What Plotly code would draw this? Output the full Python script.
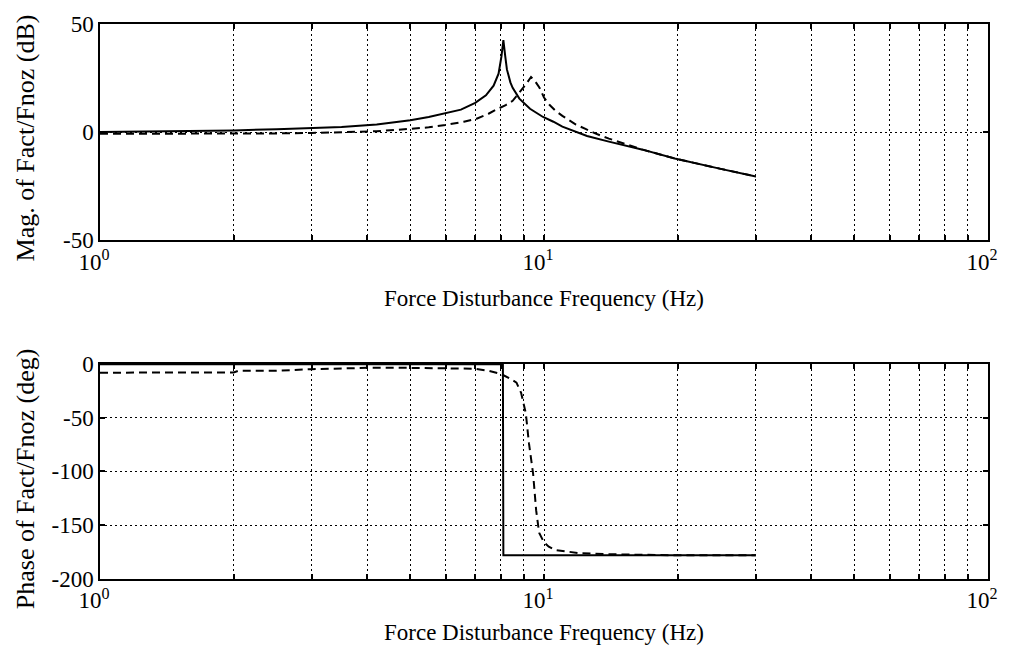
import plotly.graph_objects as go
from plotly.subplots import make_subplots

# ---- data ----
freq_mag_solid = [1.0, 1.5, 2.0, 2.5, 3.0, 3.5, 4.2, 5.0, 5.5, 6.0, 6.5, 7.0, 7.4, 7.7, 7.9, 8.02, 8.1,
                  8.18, 8.25, 8.4, 8.5, 8.8, 9.0, 9.3, 9.95, 10.5, 11.0, 11.8, 12.5, 14.0, 16.6, 19.7, 22.0, 25.0, 30.0]
mag_solid = [0.0, 0.3, 0.8, 1.3, 1.8, 2.4, 3.5, 5.5, 7.0, 8.7, 10.4, 13.5, 17.0, 21.5, 27.0, 35.0, 42.5,
             35.0, 29.0, 23.0, 20.5, 15.5, 13.5, 10.8, 7.0, 4.8, 2.5, 0.0, -1.8, -4.4, -8.0, -12.2, -14.5, -17.0, -20.5]

freq_mag_dash = [1.0, 1.5, 2.0, 2.5, 3.0, 3.5, 4.2, 5.0, 5.5, 6.0, 6.6, 7.05, 7.5, 7.8, 8.2, 8.5, 8.95, 9.1, 9.35,
                 9.55, 9.77, 10.0, 10.3, 10.6, 11.0, 11.8, 12.4, 13.0, 14.0, 15.2, 16.6, 19.7, 22.0, 25.0, 30.0]
mag_dash = [-0.8, -0.8, -0.7, -0.6, -0.4, -0.1, 0.4, 1.5, 2.2, 3.3, 4.8, 6.2, 8.5, 10.4, 12.5, 14.5, 20.0, 22.0, 25.5,
            23.5, 20.5, 16.0, 12.5, 10.0, 7.5, 3.5, 1.5, -0.5, -3.0, -5.5, -8.0, -12.2, -14.5, -17.0, -20.5]

freq_ph_solid = [1.0, 8.08, 8.1, 30.0]
phase_solid = [-0.5, -0.5, -178.0, -178.0]

freq_ph_dash = [1.0, 1.5, 2.0, 2.05, 2.5, 3.0, 3.5, 4.0, 5.0, 6.0, 7.0, 7.5, 8.0, 8.4, 8.67, 8.88, 9.1, 9.25,
                9.45, 9.6, 9.75, 10.0, 10.25, 10.6, 11.35, 12.0, 14.0, 20.0, 30.0]
phase_dash = [-8.3, -8.3, -8.0, -6.5, -6.5, -5.0, -4.5, -3.8, -3.8, -4.0, -4.6, -6.5, -9.5, -14.0, -17.5, -27.0, -46.0, -74.0,
              -102.0, -136.0, -157.0, -166.0, -170.0, -173.0, -175.0, -176.0, -177.0, -178.0, -178.0]

x_tickvals = [1, 2, 3, 4, 5, 6, 7, 8, 9, 10, 20, 30, 40, 50, 60, 70, 80, 90, 100]
x_ticktext = ["10<sup>0</sup>"] + [""] * 8 + ["10<sup>1</sup>"] + [""] * 8 + ["10<sup>2</sup>"]
mag_ticks = [-50, 0, 50]
mag_ticktext = ["-50", "0", "50"]
phase_ticks = [-200, -150, -100, -50, 0]
phase_ticktext = ["-200", "-150", "-100", "-50", "0"]

x_title = "Force Disturbance Frequency (Hz)"
mag_title = "Mag. of Fact/Fnoz (dB)"
phase_title = "Phase of Fact/Fnoz (deg)"

FONT = "Liberation Serif"

fig = make_subplots(rows=2, cols=1, vertical_spacing=0.1)

line_solid = dict(color="black", width=2)
line_dash = dict(color="black", width=2, dash="8px,5px")

fig.add_trace(go.Scatter(x=freq_mag_solid, y=mag_solid, mode="lines", line=line_solid, showlegend=False), row=1, col=1)
fig.add_trace(go.Scatter(x=freq_mag_dash, y=mag_dash, mode="lines", line=line_dash, showlegend=False), row=1, col=1)
fig.add_trace(go.Scatter(x=freq_ph_solid, y=phase_solid, mode="lines", line=line_solid, showlegend=False), row=2, col=1)
fig.add_trace(go.Scatter(x=freq_ph_dash, y=phase_dash, mode="lines", line=line_dash, showlegend=False), row=2, col=1)

xcommon = dict(type="log", range=[0, 2], tickvals=x_tickvals, ticktext=x_ticktext,
               ticks="inside", ticklen=5, tickcolor="black", tickwidth=1.5,
               showline=True, linecolor="black", linewidth=1.5, mirror="ticks",
               showgrid=True, gridcolor="black", gridwidth=1, griddash="2px,3px",
               zeroline=False, tickfont=dict(family=FONT, size=23, color="black"),
               ticklabelshift=-6)
ycommon = dict(ticks="inside", ticklen=5, tickcolor="black", tickwidth=1.5,
               showline=True, linecolor="black", linewidth=1.5, mirror="ticks",
               showgrid=True, gridcolor="black", gridwidth=1, griddash="2px,3px",
               zeroline=False, tickfont=dict(family=FONT, size=23, color="black"))

fig.update_xaxes(**xcommon)
fig.update_yaxes(**ycommon)
fig.update_layout(
    xaxis=dict(domain=[0, 1]),
    xaxis2=dict(domain=[0, 1]),
    yaxis=dict(domain=[0.6104, 1.0], range=[-50, 50], tickvals=mag_ticks, ticktext=mag_ticktext),
    yaxis2=dict(domain=[0.0, 0.3878], range=[-200, 0], tickvals=phase_ticks, ticktext=phase_ticktext),
)

annots = [
    dict(text=x_title, x=0.5, y=0.5063, xref="paper", yref="paper", showarrow=False,
         xanchor="center", yanchor="middle", font=dict(family=FONT, size=23, color="black")),
    dict(text=x_title, x=0.5, y=-0.097, xref="paper", yref="paper", showarrow=False,
         xanchor="center", yanchor="middle", font=dict(family=FONT, size=23, color="black")),
    dict(text=mag_title, x=-0.0837, y=0.795, xref="paper", yref="paper", showarrow=False, textangle=-90,
         xanchor="center", yanchor="middle", font=dict(family=FONT, size=26, color="black")),
    dict(text=phase_title, x=-0.0837, y=0.181, xref="paper", yref="paper", showarrow=False, textangle=-90,
         xanchor="center", yanchor="middle", font=dict(family=FONT, size=26, color="black")),
]

fig.update_layout(
    width=1010, height=654,
    margin=dict(l=100, r=14, t=22, b=75),
    paper_bgcolor="white", plot_bgcolor="white",
    annotations=annots,
    font=dict(family=FONT, color="black"),
)

fig.write_html("out.html")
